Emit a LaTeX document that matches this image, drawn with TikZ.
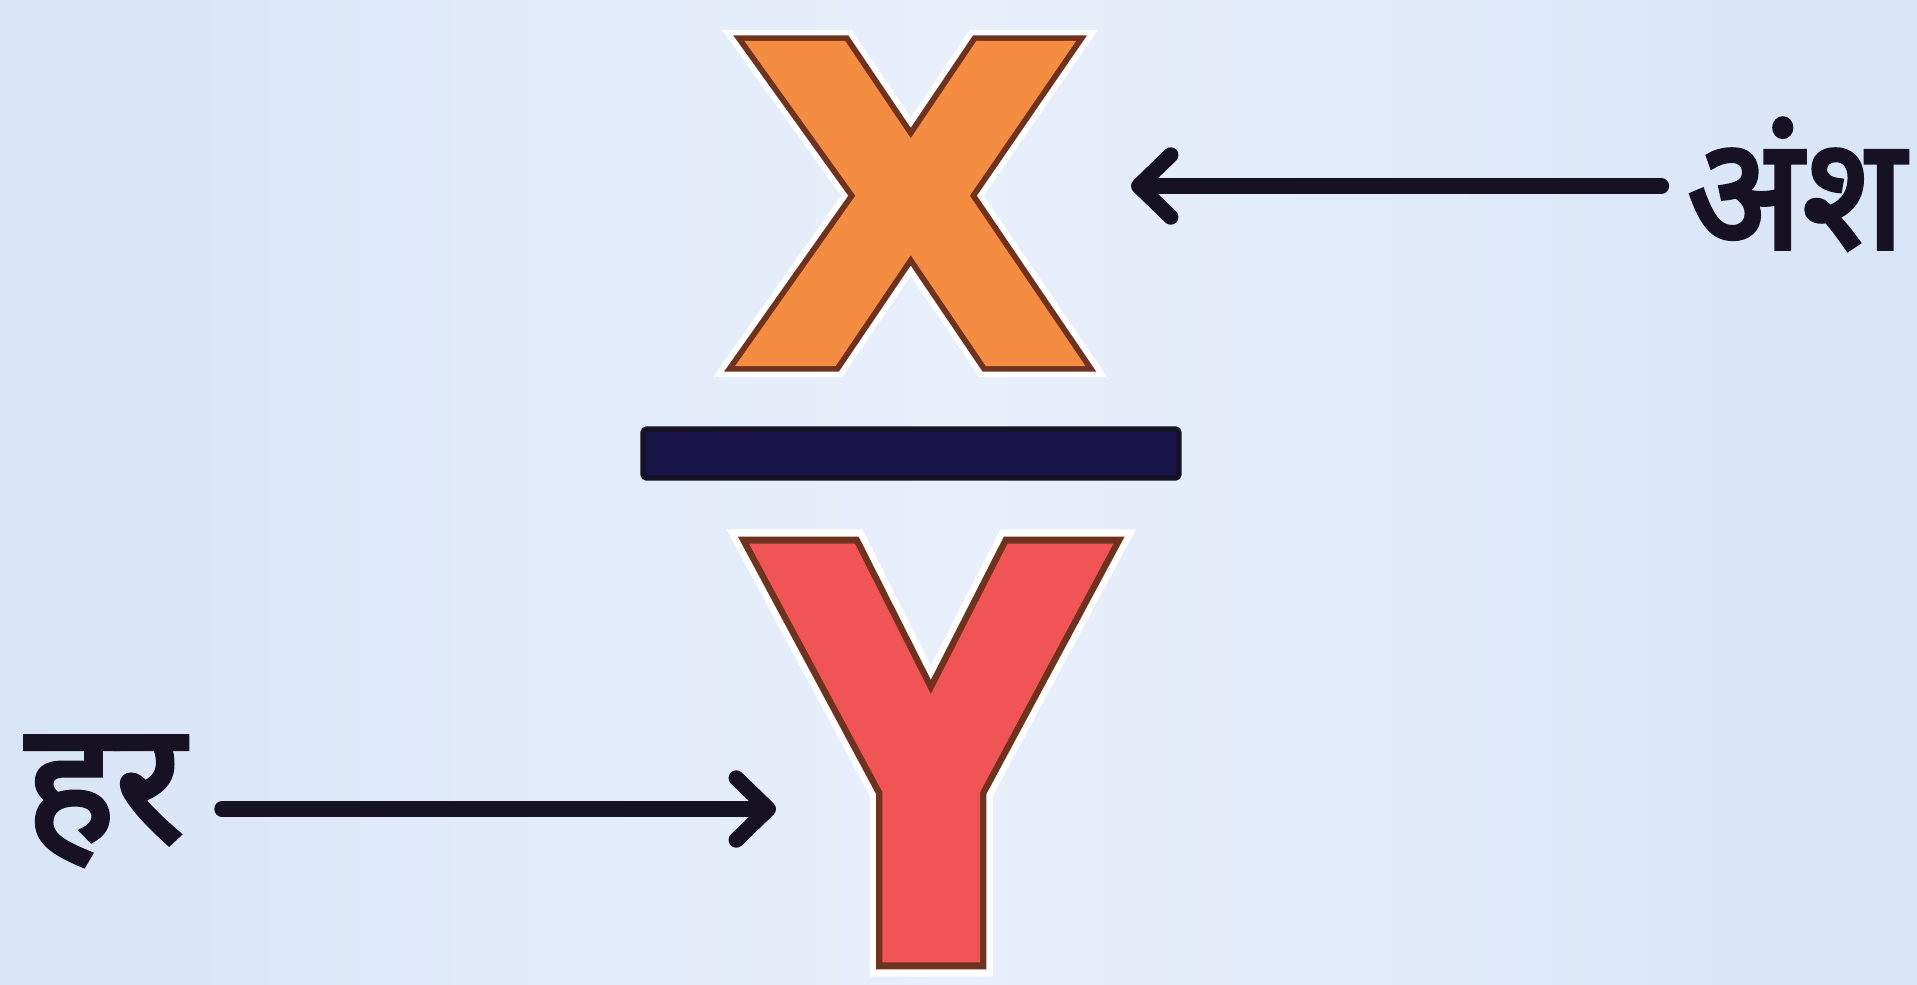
\documentclass[tikz,border=0pt]{standalone}
\usepackage{xcolor}
\usepackage{fontspec}
\usepackage{tikz}
\usetikzlibrary{arrows.meta, positioning, calc}
\newfontfamily\letterfont[FakeBold=5]{Liberation Sans Bold}
\newfontfamily\edgefont[FakeBold=7.5]{Liberation Sans Bold}
\newfontfamily\halofont[FakeBold=10]{Liberation Sans Bold}
\newfontfamily\hindifont[Script=Devanagari, FakeBold=3]{Noto Sans}
\definecolor{mybg}{RGB}{216,229,247}
\definecolor{mybglight}{RGB}{232,239,251}
\definecolor{myorange}{RGB}{244,140,66}
\definecolor{myred}{RGB}{240,84,84}
\definecolor{myedge}{RGB}{110,50,30}
\definecolor{mynavy}{RGB}{24,20,72}
\definecolor{mydark}{RGB}{22,18,36}
\tikzset{
  letter/.style={inner sep=0pt, font=\letterfont},
  edge/.style={inner sep=0pt, font=\edgefont, text=myedge},
  halo/.style={inner sep=0pt, font=\halofont, text=white},
  fracbar/.style={rectangle, fill=mynavy, draw=mydark, line width=1.5pt,
    minimum width=5.36cm, minimum height=0.49cm, inner sep=0pt, rounded corners=1pt},
  label/.style={inner sep=0pt, text=mydark, font=\hindifont},
  arrow/.style={-{Straight Barb[length=3.2mm, width=6.2mm, round]}, line width=4.4pt,
    line cap=round, color=mydark}
}
\begin{document}
\begin{tikzpicture}
  \shade[left color=mybg, right color=mybg, middle color=mybglight] (0,0) rectangle (19.17,9.84);
  \useasboundingbox (0,0) rectangle (19.17,9.84);
  % numerator
  \node[halo] (numerhalo) at (9.105,7.805) {\resizebox{3.15cm}{3.03cm}{X}};
  \node[edge] (numeredge) at (9.105,7.805) {\resizebox{3.15cm}{3.03cm}{X}};
  \node[letter, text=myorange] (numer) at (9.105,7.805) {\resizebox{3.15cm}{3.03cm}{X}};
  \node[fracbar] (bar) at (9.11,5.305) {};
  % denominator
  \node[halo] (denomhalo) at (9.31,2.31) {\resizebox{3.36cm}{3.9cm}{Y}};
  \node[edge] (denomedge) at (9.31,2.31) {\resizebox{3.36cm}{3.9cm}{Y}};
  \node[letter, text=myred] (denom) at (9.31,2.31) {\resizebox{3.36cm}{3.9cm}{Y}};
  \node[label, font=\hindifont\fontsize{33}{40}\selectfont] (lblnum) at (17.96,8.0)
    {\scalebox{1.3}[1.35]{अंश}};
  \node[label, font=\hindifont\fontsize{48}{56}\selectfont] (lblden) at (1.05,1.83) {हर};
  \coordinate (numtip) at (11.31,7.98);
  \coordinate (dentip) at (7.76,1.75);
  \draw[arrow] (lblnum.west |- numtip) ++(-0.25,0) -- (numtip);
  \draw[arrow] (lblden.east |- dentip) ++(0.37,0) -- (dentip);
\end{tikzpicture}
\end{document}
